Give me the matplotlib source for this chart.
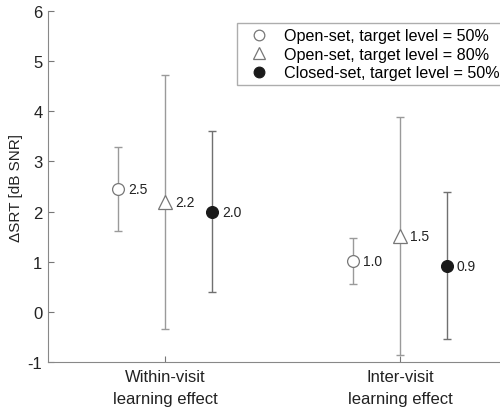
import matplotlib
matplotlib.use("Agg")
import matplotlib.pyplot as plt
import numpy as np

plt.rcParams['font.family'] = ['Liberation Sans', 'DejaVu Sans']
plt.rcParams['axes.unicode_minus'] = False

categories = ["Within-visit\nlearning effect", "Inter-visit\nlearning effect"]
series_names = ["Open-set, target level = 50%", "Open-set, target level = 80%",
                "Closed-set, target level = 50%"]
means = [[2.45, 1.01], [2.2, 1.52], [2.0, 0.92]]
lower = [[1.62, 0.56], [-0.35, -0.87], [0.39, -0.54]]
upper = [[3.28, 1.47], [4.72, 3.88], [3.61, 2.39]]
value_labels = [["2.5", "1.0"], ["2.2", "1.5"], ["2.0", "0.9"]]

markers = ['o', '^', 'o']
faces = ['white', 'white', '#1a1a1a']
edges = ['#777777', '#777777', '#1a1a1a']
ecolors = ['#9a9a9a', '#9a9a9a', '#707070']
offsets = [-0.2, 0.0, 0.2]
msizes = [8.5, 9.5, 8.5]

fig = plt.figure(figsize=(5.0, 4.1), dpi=100)
ax = fig.add_axes([0.096, 0.1146, 0.92, 0.856])

x = np.arange(1, len(categories) + 1)
for i in range(3):
    m = np.array(means[i]); lo = np.array(lower[i]); hi = np.array(upper[i])
    xi = x + offsets[i]
    ax.errorbar(xi, m, yerr=[m - lo, hi - m], fmt='none', ecolor=ecolors[i],
                elinewidth=1.0, capsize=3, capthick=1.0, zorder=2)
    ax.plot(xi, m, linestyle='none', marker=markers[i], markersize=msizes[i],
            markerfacecolor=faces[i], markeredgecolor=edges[i], markeredgewidth=0.9,
            label=series_names[i], zorder=3)
    for xx, yy, t in zip(xi, m, value_labels[i]):
        ax.annotate(t, (xx, yy), xytext=(7, 0), textcoords='offset points',
                    va='center', ha='left', fontsize=10, color='#222222')

ax.set_xlim(0.5, 2.46)
ax.set_ylim(-1, 6)
ax.set_yticks(range(-1, 7))
ax.set_xticks(x)
ax.set_xticklabels(categories, fontsize=12, linespacing=1.6)
ax.tick_params(axis='both', direction='in', length=4, color='#777777', labelsize=12,
               labelcolor='#222222')
ax.tick_params(axis='x', pad=5)
ax.tick_params(axis='y', pad=4)
ax.set_ylabel("ΔSRT [dB SNR]", fontsize=11, color='#222222')
ax.yaxis.set_label_coords(-0.054, 0.5)
for s in ['top', 'right']:
    ax.spines[s].set_visible(False)
for s in ['left', 'bottom']:
    ax.spines[s].set_color('#888888')

leg = ax.legend(loc='upper right', bbox_to_anchor=(1.01, 0.988), fontsize=11.6,
                frameon=True, fancybox=False, edgecolor='#999999', handletextpad=0.45,
                borderpad=0.3, labelspacing=0.22, handlelength=2.2, markerscale=0.9)
leg.get_frame().set_linewidth(1.0)

fig.savefig("out.png", dpi=100)
